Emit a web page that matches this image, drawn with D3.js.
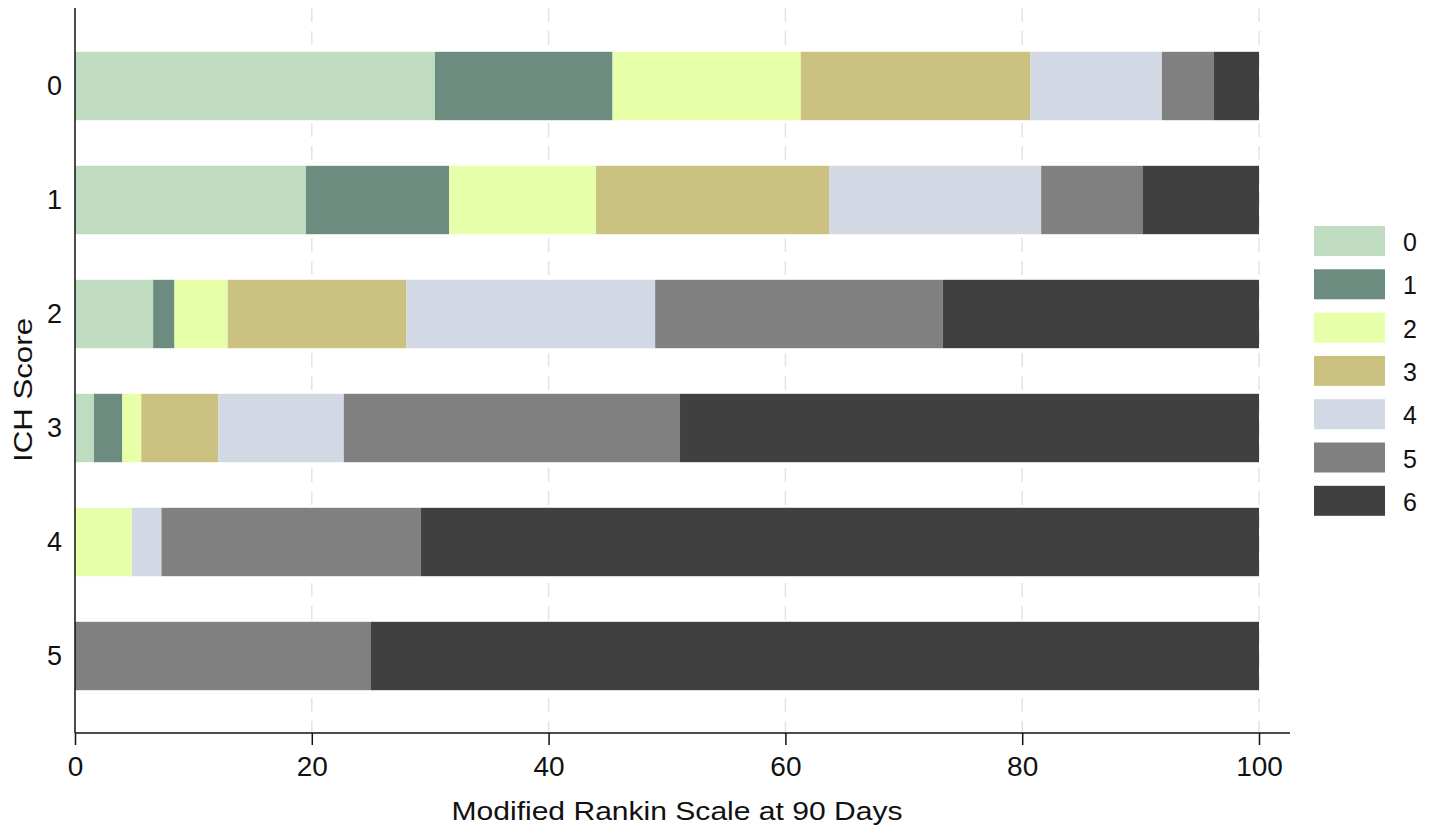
<!DOCTYPE html>
<html>
<head>
<meta charset="utf-8">
<script src="https://cdn.jsdelivr.net/npm/d3@7"></script>
<style>
  body { margin: 0; background: #fff; }
  text { font-family: "Liberation Sans", Arial, sans-serif; fill: #111; }
</style>
</head>
<body>
<div id="chart"></div>
<script>
// ICH score rows and mRS categories
const ichScores = ["0", "1", "2", "3", "4", "5"];
const mrsCategories = ["0", "1", "2", "3", "4", "5", "6"];

// Percent of patients per mRS category, one value per ICH score row
const mrs0 = [30.4, 19.5, 6.6, 1.6, 0, 0];
const mrs1 = [15.0, 12.1, 1.8, 2.4, 0, 0];
const mrs2 = [15.9, 12.4, 4.5, 1.6, 4.8, 0];
const mrs3 = [19.4, 19.7, 15.1, 6.5, 0, 0];
const mrs4 = [11.1, 17.9, 21.0, 10.6, 2.5, 0];
const mrs5 = [4.4, 8.6, 24.3, 28.4, 21.9, 25.0];
const mrs6 = [3.8, 9.8, 26.7, 48.9, 70.8, 75.0];

const xTicks = [0, 20, 40, 60, 80, 100];
const colors = ["#c0dcc0", "#6c8c80", "#e6ffa8", "#cbc180", "#d2d8e4", "#808080", "#404040"];

const series = [mrs0, mrs1, mrs2, mrs3, mrs4, mrs5, mrs6];
const rows = ichScores.map((s, i) => {
    const r = { ich: s };
    mrsCategories.forEach((c, j) => { r[c] = series[j][i]; });
    return r;
});

const W = 1429, H = 835;
const svg = d3.select("#chart")
    .append("svg")
    .attr("width", W)
    .attr("height", H);

const x = d3.scaleLinear().domain([0, 100]).range([75, 1259]);
const y = d3.scaleBand()
    .domain(ichScores)
    .range([29, 713])
    .paddingInner(0.4)
    .paddingOuter(0.2);

const axisY = 733;

// dashed grid lines
svg.append("g")
    .selectAll("line")
    .data(xTicks.slice(1))
    .enter()
    .append("line")
    .attr("x1", d => x(d))
    .attr("x2", d => x(d))
    .attr("y1", 8)
    .attr("y2", axisY)
    .attr("stroke", "#e4e4e4")
    .attr("stroke-width", 1.5)
    .attr("stroke-dasharray", "14,9");

// stacked bars
const stack = d3.stack().keys(mrsCategories)(rows);
svg.append("g")
    .selectAll("g")
    .data(stack)
    .enter()
    .append("g")
    .attr("fill", (d, i) => colors[i])
    .selectAll("rect")
    .data(d => d)
    .enter()
    .append("rect")
    .attr("x", d => x(d[0]))
    .attr("width", d => x(d[1]) - x(d[0]))
    .attr("y", d => y(d.data.ich))
    .attr("height", y.bandwidth());

// x axis
const xAxis = svg.append("g")
    .attr("transform", `translate(0,${axisY})`)
    .call(d3.axisBottom(x).tickValues(xTicks).tickSize(12).tickPadding(11));
xAxis.select(".domain").attr("d", `M${x(0)},0H1290`).attr("stroke", "#111").attr("stroke-width", 1.5);
xAxis.selectAll(".tick line").attr("stroke", "#111").attr("stroke-width", 1.5);
xAxis.selectAll("text").style("font-size", "28px").attr("fill", "#111");

// y axis
const yAxis = svg.append("g")
    .attr("transform", `translate(${x(0)},0)`)
    .call(d3.axisLeft(y).tickSize(0).tickPadding(13));
yAxis.select(".domain").attr("d", `M0,8V${axisY}`).attr("stroke", "#111").attr("stroke-width", 1.5);
yAxis.selectAll("text").style("font-size", "27px").attr("fill", "#111");

// axis titles
svg.append("text")
    .attr("x", 677)
    .attr("y", 820)
    .attr("text-anchor", "middle")
    .attr("textLength", 451)
    .attr("lengthAdjust", "spacingAndGlyphs")
    .style("font-size", "26px")
    .text("Modified Rankin Scale at 90 Days");

svg.append("text")
    .attr("transform", "translate(32,390) rotate(-90)")
    .attr("text-anchor", "middle")
    .attr("textLength", 144)
    .attr("lengthAdjust", "spacingAndGlyphs")
    .style("font-size", "26px")
    .text("ICH Score");

// legend
const legend = svg.append("g")
    .selectAll("g")
    .data(mrsCategories)
    .enter()
    .append("g")
    .attr("transform", (d, i) => `translate(1314,${226 + i * 43.3})`);
legend.append("rect")
    .attr("width", 71)
    .attr("height", 30)
    .attr("fill", (d, i) => colors[i]);
legend.append("text")
    .attr("x", 89)
    .attr("y", 16)
    .attr("dy", "0.36em")
    .style("font-size", "25px")
    .text(d => d);
</script>
</body>
</html>
